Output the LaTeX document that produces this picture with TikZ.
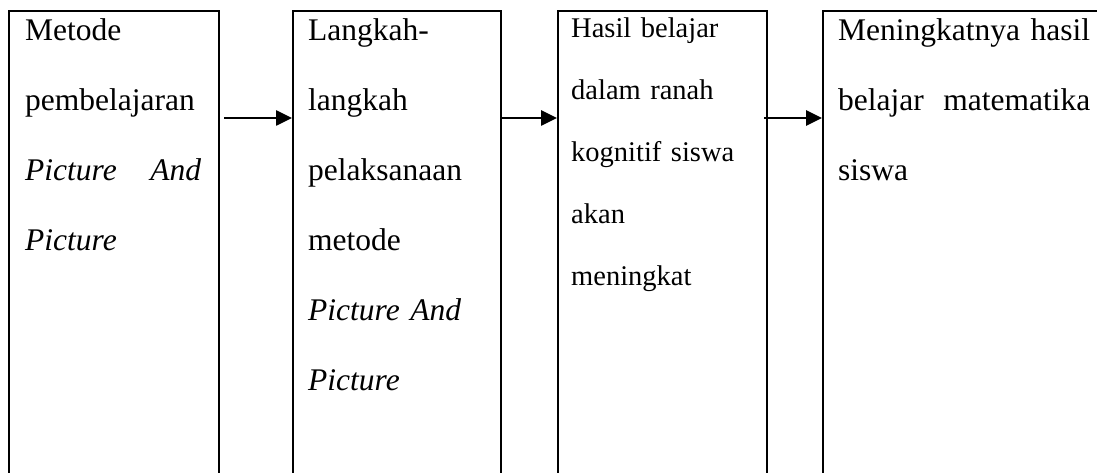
\documentclass[tikz,border=0pt]{standalone}
\usepackage{fontspec}
\setmainfont{Liberation Serif}
\usetikzlibrary{arrows.meta}
\begin{document}
\begin{tikzpicture}[x=1pt,y=1pt,
  box/.style={draw=black, line width=2.4pt, anchor=north west, minimum height=520pt, inner sep=0pt},
  txt/.style={anchor=north west, inner sep=0pt, align=left, font=\fontsize{31.5}{70}\selectfont},
  smalltxt/.style={txt, font=\fontsize{28.5}{62}\selectfont},
  conn/.style={line width=2.6pt, -{Triangle[length=16pt,width=15pt]}}]
\useasboundingbox (0,0) rectangle (1097,-473);
\clip (0,0) rectangle (1097,-473);
\node[box, minimum width=210pt] (b1) at (8,-10) {};
\node[box, minimum width=208pt] (b2) at (292,-10) {};
\node[box, minimum width=209pt] (b3) at (557,-10) {};
\node[box, minimum width=320pt] (b4) at (822,-10) {};
\node[txt, text width=176pt] (t1) at (25,-18) {Metode\\pembelajaran\\\textit{Picture}\hfill\textit{And}\\\textit{Picture}};
\node[txt, text width=180pt] (t2) at (308,-18) {Langkah-\\langkah\\pelaksanaan\\metode\\\textit{Picture And}\\\textit{Picture}};
\node[smalltxt, text width=185pt] (t3) at (571,-18) {Hasil belajar\\dalam ranah\\kognitif siswa\\akan\\meningkat};
\node[txt, text width=252pt] (t4) at (838,-18) {\mbox{Meningkatnya hasil}\\belajar\hfill matematika\\siswa};
\draw[conn] ([xshift=4pt,yshift=-108pt]b1.north east) -- ([yshift=-108pt]b2.north west);
\draw[conn] ([xshift=-2pt,yshift=-108pt]b2.north east) -- ([yshift=-108pt]b3.north west);
\draw[conn] ([xshift=-4pt,yshift=-108pt]b3.north east) -- ([yshift=-108pt]b4.north west);
\end{tikzpicture}
\end{document}
